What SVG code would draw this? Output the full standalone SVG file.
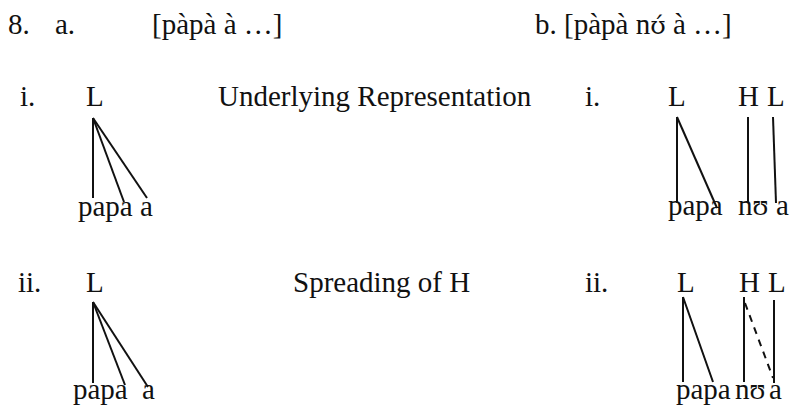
<svg xmlns="http://www.w3.org/2000/svg" width="790" height="405" viewBox="0 0 790 405">
<style>
text{font-family:"Liberation Serif","Times New Roman",serif;font-size:29px;fill:#111}
.dv{font-family:"DejaVu Serif",serif;font-size:25px}
.ln{stroke:#111;stroke-width:2;fill:none}
.dash{stroke-dasharray:7,6}
</style>
<rect width="790" height="405" fill="#fff"/>
<g id="titles">
<text x="8" y="34">8.</text>
<text x="55" y="34">a.</text>
<text x="152" y="34">[pàpà à …]</text>
<text x="535" y="34">b. [pàpà n<tspan class="dv">ʊ́</tspan> à …]</text>
<text x="218" y="106">Underlying Representation</text>
<text x="293" y="292">Spreading of H</text>
</g>
<g id="a-i">
<text x="20" y="106">i.</text>
<text x="86" y="106">L</text>
<text x="78" y="216">papa</text>
<text x="140" y="216">a</text>
</g>
<g id="b-i">
<text x="585" y="106">i.</text>
<text x="668" y="106">L</text>
<text x="738" y="106">H</text>
<text x="767" y="106">L</text>
<text x="668" y="215">papa</text>
<text x="738" y="215">nʊ</text>
<text x="776" y="215">a</text>
</g>
<g id="a-ii">
<text x="18" y="292">ii.</text>
<text x="86" y="292">L</text>
<text x="73" y="399">papa</text>
<text x="142" y="399">a</text>
</g>
<g id="b-ii">
<text x="585" y="292">ii.</text>
<text x="677" y="292">L</text>
<text x="739" y="292">H</text>
<text x="768" y="292">L</text>
<text x="676" y="399">papa</text>
<text x="735" y="399">nʊ</text>
<text x="769" y="399">a</text>
</g>
<g id="connectors">
<line class="ln" x1="93" y1="118" x2="93" y2="198"/>
<line class="ln" x1="93" y1="118" x2="124" y2="202"/>
<line class="ln" x1="93" y1="118" x2="147" y2="198"/>
<line class="ln" x1="677" y1="117" x2="677" y2="203"/>
<line class="ln" x1="677" y1="117" x2="717" y2="208"/>
<line class="ln" x1="748" y1="117" x2="748" y2="202"/>
<line class="ln" x1="773" y1="117" x2="776" y2="203"/>
<line class="ln" x1="93" y1="302" x2="93" y2="383"/>
<line class="ln" x1="93" y1="302" x2="125" y2="385"/>
<line class="ln" x1="93" y1="302" x2="148" y2="387"/>
<line class="ln" x1="683" y1="297" x2="683" y2="382"/>
<line class="ln" x1="683" y1="297" x2="713" y2="382"/>
<line class="ln" x1="744" y1="297" x2="744" y2="382"/>
<line class="ln dash" x1="745" y1="303" x2="773" y2="378"/>
<line class="ln" x1="774" y1="300" x2="774" y2="383"/>
</g>
</svg>
